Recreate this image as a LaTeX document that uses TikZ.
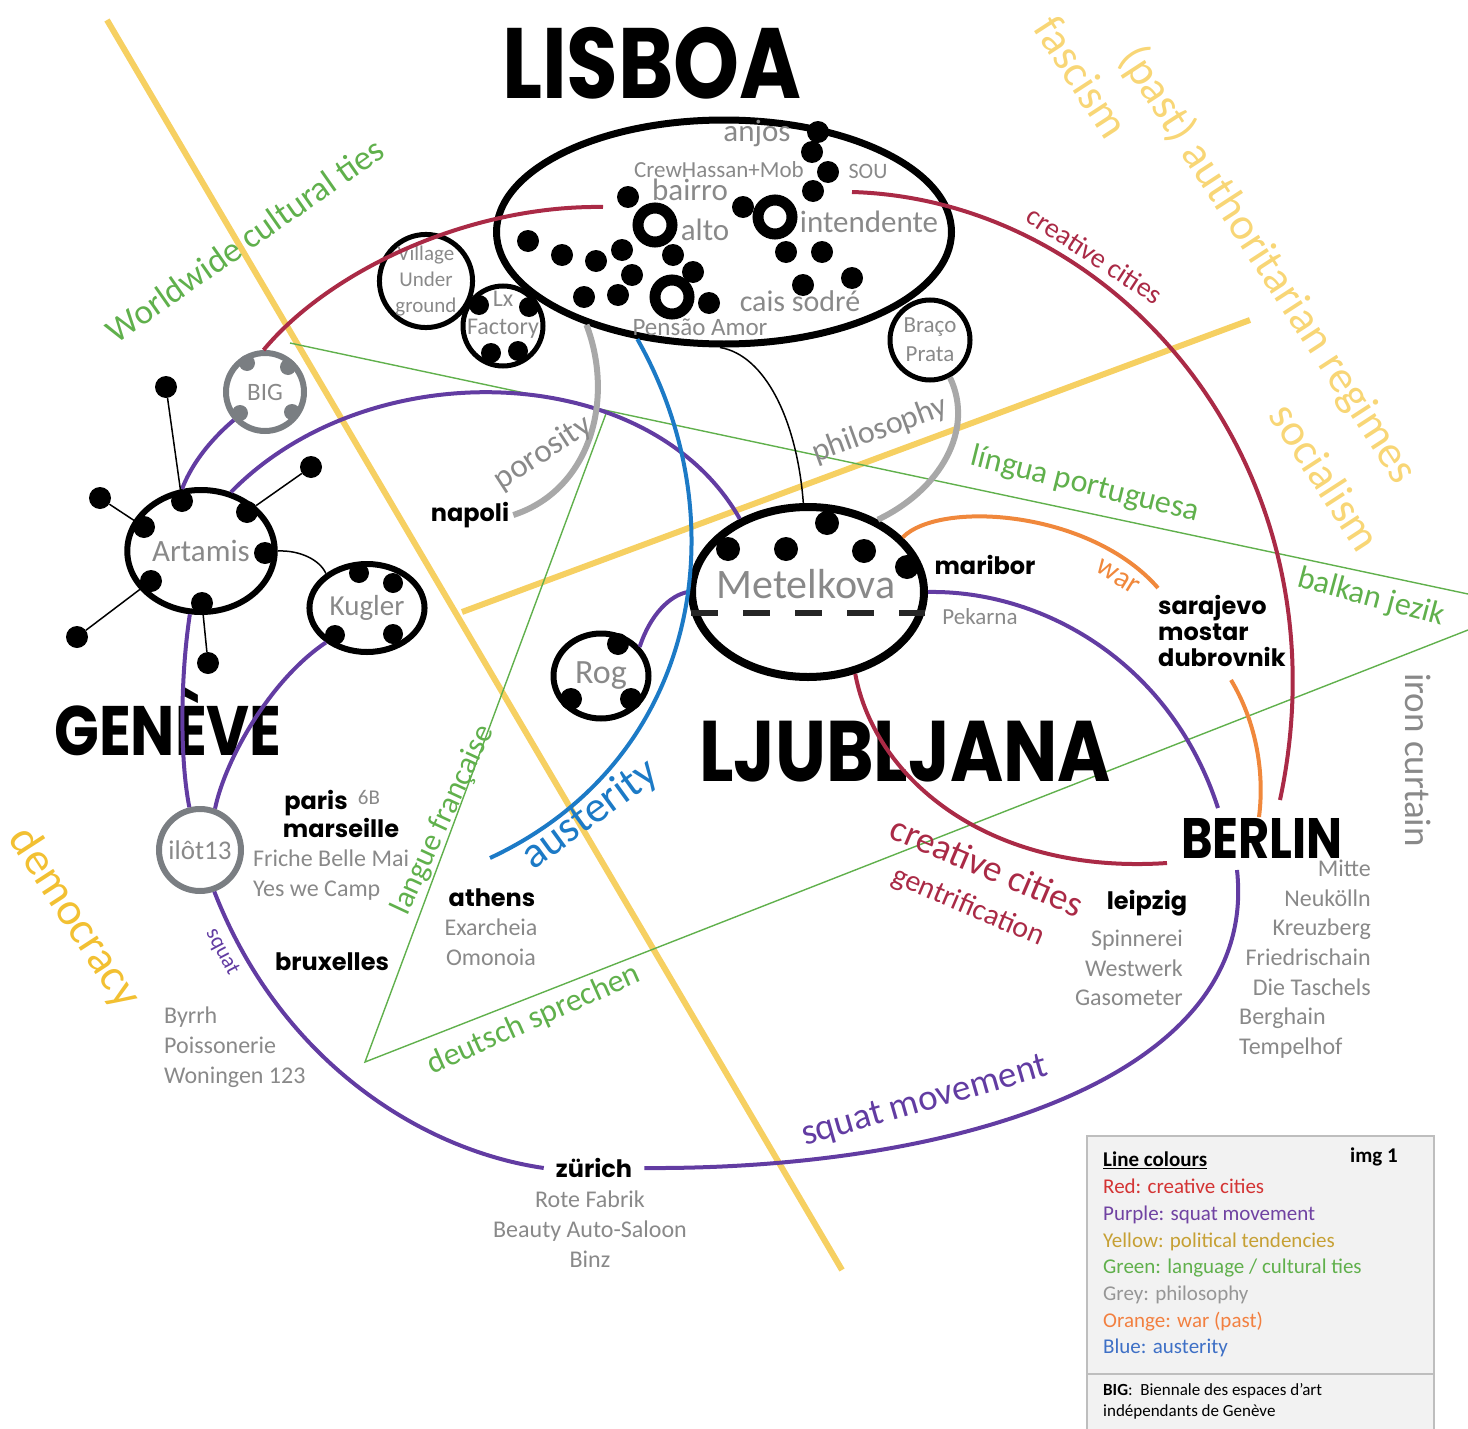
\documentclass[tikz,border=0pt]{standalone}
\usepackage{fontspec}
\setmainfont{Carlito}
\newfontfamily\brushfont{Poppins}
\usetikzlibrary{shapes.geometric,positioning}

\definecolor{ccred}{RGB}{170,42,70}
\definecolor{sqpurple}{RGB}{98,60,162}
\definecolor{polyellow}{RGB}{246,208,98}
\definecolor{paleyellow}{RGB}{248,214,118}
\definecolor{demyellow}{RGB}{242,192,50}
\definecolor{langgreen}{RGB}{96,176,76}
\definecolor{philgrey}{RGB}{168,168,168}
\definecolor{textgrey}{RGB}{137,137,137}
\definecolor{bigrey}{RGB}{122,126,130}
\definecolor{warorange}{RGB}{240,136,60}
\definecolor{ausblue}{RGB}{28,122,198}
\definecolor{legred}{RGB}{212,52,52}
\definecolor{legpurple}{RGB}{112,66,162}
\definecolor{legyellow}{RGB}{198,160,52}
\definecolor{leggrey}{RGB}{150,150,150}
\definecolor{legorange}{RGB}{242,128,64}
\definecolor{legblue}{RGB}{62,112,198}
\definecolor{legfill}{RGB}{242,242,242}
\definecolor{legframe}{RGB}{190,190,190}

\begin{document}
\begin{tikzpicture}[
    x=1pt, y=-1pt,
    cityname/.style={font=\brushfont\bfseries\fontsize{#1}{#1}\selectfont, xscale=0.84, inner sep=0pt},
    town/.style={font=\brushfont\bfseries\fontsize{24}{26}\selectfont, inner sep=4pt, align=left},
    lbl/.style={font=\fontsize{#1}{#1}\selectfont, inner sep=0pt},
    site/.style={text=textgrey, font=\fontsize{24}{29.6}\selectfont, inner sep=0pt},
    spot/.style={circle, fill=black, inner sep=0pt, minimum size=#1},
    spot/.default=22pt,
    hollow/.style={circle, draw, line width=11pt, inner sep=0pt, minimum size=34pt},
    club/.style={circle, draw, line width=5pt, inner sep=0pt, text=textgrey, align=center},
    cc/.style={draw=ccred, line width=4pt},
    sq/.style={draw=sqpurple, line width=4pt},
    pol/.style={draw=polyellow, line width=6pt},
    lang/.style={draw=langgreen, line width=1.4pt},
    phil/.style={draw=philgrey, line width=6pt},
    fight/.style={draw=warorange, line width=4pt},
    aus/.style={draw=ausblue, line width=4pt},
    tie/.style={draw=black, line width=1.5pt}
]
\useasboundingbox (0,0) rectangle (1468,1429);

% political tendencies and language ties
\coordinate (yA) at (107,20);
\coordinate (yB) at (842,1270);
\coordinate (yC) at (462,612);
\coordinate (yD) at (1250,320);
\coordinate (gA) at (290,343);
\coordinate (gB) at (1468,594);
\coordinate (gC) at (365,1062);
\coordinate (gD) at (607,411);
\coordinate (gE) at (1468,630);
\draw[pol] (yA) -- (yB);
\draw[pol] (yC) -- (yD);
\draw[lang] (gA) -- (gB);
\draw[lang] (gD) -- (gC) -- (gE);

% Lisboa
\node[draw, ellipse, line width=7pt, minimum width=455pt, minimum height=224pt] (lisboa) at (724,232) {};
\node[cityname=100] (lisboaname) at (652,63) {LISBOA};
\node[lbl=31, text=textgrey] (anjos) at (757,133) {anjos};
\node[lbl=23, text=textgrey, anchor=west] (crew) at (634,170) {CrewHassan+Mob};
\node[lbl=22, text=textgrey] (sou) at (868,171) {SOU};
\node[lbl=31, text=textgrey] (bairro) at (690,190) {bairro};
\node[lbl=31, text=textgrey] (alto) at (705,230) {alto};
\node[lbl=31, text=textgrey] (intendente) at (869,222) {intendente};
\node[lbl=30, text=textgrey] (caissodre) at (800,301) {cais sodré};
\node[lbl=25, text=textgrey] (pensao) at (700,327) {Pensão Amor};
\node[club, minimum size=90pt, font=\fontsize{21}{26}\selectfont] (village) at (426,281) {Village\\Under\\ground};
\node[club, minimum size=80pt] (lxfactory) at (503,326) {};
\node[text=textgrey, align=center, inner sep=0pt, font=\fontsize{24}{28}\selectfont] (lxname) at (503,315) {Lx\\Factory};
\node[club, minimum size=80pt, font=\fontsize{23}{29}\selectfont] (braco) at (930,340) {Braço\\Prata};

% Genève
\node[circle, draw=bigrey, line width=6pt, minimum size=78pt, inner sep=0pt, text=textgrey, font=\fontsize{25}{25}\selectfont] (bigc) at (265,392) {BIG};
\node[draw, ellipse, line width=6pt, minimum width=138pt, minimum height=122pt, text=textgrey, font=\fontsize{31}{31}\selectfont] (artamis) at (201,551) {Artamis};
\node[draw, ellipse, line width=6pt, minimum width=100pt, minimum height=88pt, text=textgrey, font=\fontsize{29}{29}\selectfont] (kugler) at (367,608) {Kugler};
\node[circle, draw=bigrey, line width=6pt, minimum size=82pt, inner sep=0pt, text=textgrey, font=\fontsize{27}{27}\selectfont] (ilot) at (200,850) {ilôt13};
\node[cityname=70] (geneve) at (168,722) {GENÈVE};

% Ljubljana
\node[draw, ellipse, line width=8pt, minimum width=232pt, minimum height=170pt] (metelkova) at (808,592) {};
\node[lbl=42, text=textgrey] (metelkovaname) at (806,584) {Metelkova};
\node[draw, ellipse, line width=6pt, minimum width=95pt, minimum height=85pt, text=textgrey, font=\fontsize{34}{34}\selectfont] (rog) at (601,676) {Rog};
\node[cityname=86] (ljubljana) at (905,752) {LJUBLJANA};
\draw[line width=6pt, draw=black!85, dash pattern=on 27pt off 25pt] (metelkova.190) -- (metelkova.350);

% Berlin
\node[cityname=57] (berlin) at (1262,838) {BERLIN};

% towns
\node[town] (napoli) at (470,515) {napoli};
\node[town] (maribor) at (985,565) {maribor};
\node[town, anchor=north west, inner sep=0pt] (balkan) at (1158,595) {sarajevo\\mostar\\dubrovnik};
\node[town] (paris) at (316,803) {paris};
\node[town] (marseille) at (341,828) {marseille};
\node[town] (athens) at (492,898) {athens};
\node[town] (bruxelles) at (332,962) {bruxelles};
\node[town] (leipzig) at (1147,903) {leipzig};
\node[town, inner xsep=12pt] (zurich) at (594,1168) {zürich};

% sites
\node[lbl=21, text=textgrey] (sixb) at (369,797) {6B};
\node[lbl=23, text=textgrey] (pekarna) at (980,617) {Pekarna};
\node[site, anchor=north west, align=left] (marseillesites) at (253,850) {Friche Belle Mai\\Yes we Camp};
\node[site, anchor=north west, align=left] (bruxellessites) at (164,1007) {Byrrh\\Poissonerie\\Woningen 123};
\node[site, anchor=north, align=center] (athenssites) at (491,919) {Exarcheia\\Omonoia};
\node[site, anchor=north, align=center] (zurichsites) at (590,1191) {Rote Fabrik\\Beauty Auto-Saloon\\Binz};
\node[site, anchor=north east, align=right] (leipzigsites) at (1183,930) {Spinnerei\\Westwerk\\Gasometer};
\node[site, anchor=north east, align=right] (berlinsites) at (1371,860) {Mitte\\Neukölln\\Kreuzberg\\Friedrischain\\Die Taschels};
\node[site, anchor=north west, align=left] (berlinsites2) at (1239,1008) {Berghain\\Tempelhof};

% free ends
\coordinate (lisW) at (603,207);
\coordinate (lisE) at (852,192);
\coordinate (berlinred) at (1280,800);
\coordinate (leipzigred) at (1167,863);
\coordinate (berlinsqS) at (1237,870);
\coordinate (berlinsqN) at (1218,808);
\coordinate (warend) at (1158,588);
\coordinate (balkanwar) at (1231,680);
\coordinate (berlinwar) at (1259,817);
\coordinate (ausend) at (490,858);

% creative cities
\draw[cc] (bigc.92) .. controls (330,270) and (470,205) .. (lisW);
\draw[cc] (lisE) .. controls (1120,200) and (1350,470) .. (berlinred);
\draw[cc] (metelkova.300) .. controls (875,780) and (990,875) .. (leipzigred);

% squat movement
\draw[sq] (artamis.107) .. controls (195,455) and (222,430) .. (bigc.222);
\draw[sq] (artamis.63) .. controls (370,350) and (650,360) .. (metelkova.133);
\draw[sq] (kugler.220) .. controls (270,680) and (225,760) .. (ilot.70);
\draw[sq] (artamis.260) .. controls (180,680) and (180,760) .. (ilot.104);
\draw[sq] (ilot.289) .. controls (280,1060) and (420,1150) .. (zurich.west);
\draw[sq] (zurich.east) .. controls (950,1170) and (1260,1080) .. (berlinsqS);
\draw[sq] (berlinsqN) .. controls (1170,660) and (1040,590) .. (metelkova.east);
\draw[sq] (rog.37) .. controls (650,615) and (670,595) .. (metelkova.west);

% war
\draw[fight] (metelkova.30) .. controls (940,500) and (1090,510) .. (warend);
\draw[fight] (balkanwar) .. controls (1255,720) and (1265,770) .. (berlinwar);

% philosophy
\draw[phil] (lisboa.214) .. controls (615,400) and (590,490) .. (napoli.east);
\draw[phil] (braco.298) .. controls (975,430) and (940,490) .. (metelkova.46);

% austerity and other ties
\draw[aus] (lisboa.231) .. controls (740,520) and (700,760) .. (ausend);
\draw[tie] (lisboa.268) .. controls (765,355) and (797,420) .. (metelkova.93);
\draw[tie] (artamis.east) .. controls (300,550) and (320,560) .. (kugler.140);

% spaces
\foreach \px/\py [count=\k] in {818/132, 812/152, 828/172, 813/191, 628/197, 743/207, 528/241, 562/255, 596/261, 622/250, 673/255, 693/272, 632/275, 584/297, 618/295, 709/303, 786/252, 822/252, 803/285, 852/278}
  \node[spot] (ldot\k) at (\px,\py) {};
\foreach \px/\py [count=\k] in {655/225, 775/217, 672/297}
  \node[hollow] (lring\k) at (\px,\py) {};
\foreach \px/\py [count=\k] in {479/305, 529/307, 491/353, 518/351}
  \node[spot=20pt] (lxdot\k) at (\px,\py) {};
\foreach \px/\py [count=\k] in {247/363, 288/367, 240/413, 292/412}
  \node[spot=16pt, fill=bigrey] (bigdot\k) at (\px,\py) {};
\foreach \ax/\ay/\sx/\sy [count=\k] in {182/501/166/387, 144/527/100/498, 247/512/311/467, 151/581/77/637, 202/603/208/663} {
  \node[spot] (adot\k) at (\ax,\ay) {};
  \node[spot] (asat\k) at (\sx,\sy) {};
  \draw[tie] (adot\k) -- (asat\k);
}
\node[spot] (adot6) at (265,553) {};
\foreach \px/\py [count=\k] in {359/573, 393/583, 335/635, 393/634}
  \node[spot=20pt] (kdot\k) at (\px,\py) {};
\foreach \px/\py [count=\k] in {728/549, 786/549, 827/523, 864/551, 907/567}
  \node[spot=24pt] (mdot\k) at (\px,\py) {};
\foreach \px/\py [count=\k] in {618/644, 571/699, 631/699}
  \node[spot] (rdot\k) at (\px,\py) {};

% line labels
\node[lbl=28, text=ccred, rotate=-33] (cclabel1) at (1095,255) {creative cities};
\node[lbl=37, text=ccred, rotate=-23] (cclabel2) at (987,866) {creative cities};
\node[lbl=30, text=ccred, rotate=-23] (gentrification) at (968,907) {gentrification};
\node[lbl=37, text=sqpurple, rotate=16] (sqlabel) at (925,1102) {squat movement};
\node[lbl=22, text=sqpurple, rotate=-62] (sqsmall) at (222,952) {squat};
\node[lbl=30, text=warorange, rotate=-32] (warlabel) at (1118,577) {war};
\node[lbl=33, text=textgrey, rotate=33] (porosity) at (543,453) {porosity};
\node[lbl=32, text=textgrey, rotate=20] (philosophy) at (880,430) {philosophy};
\node[lbl=44, text=ausblue, rotate=36] (austerity) at (590,815) {austerity};
\node[lbl=35, text=langgreen, rotate=35] (worldwide) at (245,240) {Worldwide cultural ties};
\node[lbl=32, text=langgreen, rotate=-14] (lingua) at (1085,485) {língua portuguesa};
\node[lbl=32, text=langgreen, rotate=-15] (balkanlang) at (1371,598) {balkan jezik};
\node[lbl=31, text=langgreen, rotate=65] (langue) at (443,820) {langue française};
\node[lbl=32, text=langgreen, rotate=24] (deutsch) at (534,1020) {deutsch sprechen};
\node[lbl=45, text=paleyellow, rotate=-57] (fascism) at (1082,77) {fascism};
\node[lbl=45, text=paleyellow, rotate=-57] (authoritarian) at (1268,265) {(past) authoritarian regimes};
\node[lbl=45, text=paleyellow, rotate=-57] (socialism) at (1326,477) {socialism};
\node[lbl=46, text=demyellow, rotate=-57] (democracy) at (74,918) {democracy};
\node[lbl=37, text=textgrey, rotate=-90] (ironcurtain) at (1418,760) {iron curtain};

% legend
\node[draw=legframe, fill=legfill, line width=2pt, anchor=north west, minimum width=347pt, minimum height=310pt, inner sep=0pt] (legendbox) at (1086,1135) {};
\coordinate (divL) at (1086,1374);
\coordinate (divR) at (1433,1374);
\draw[draw=legframe, line width=2pt] (divL) -- (divR);
\node[anchor=north west, align=left, inner sep=0pt, font=\fontsize{21}{26.7}\selectfont] (legend) at (1103,1152) {\underline{\textbf{Line colours}}\\
  \textcolor{legred}{Red: creative cities}\\
  \textcolor{legpurple}{Purple: squat movement}\\
  \textcolor{legyellow}{Yellow: political tendencies}\\
  \textcolor{langgreen}{Green: language / cultural ties}\\
  \textcolor{leggrey}{Grey: philosophy}\\
  \textcolor{legorange}{Orange: war (past)}\\
  \textcolor{legblue}{Blue: austerity}};
\node[anchor=east, inner sep=0pt, font=\bfseries\fontsize{21}{21}\selectfont] (imgtag) at (1398,1157) {img 1};
\node[anchor=north west, align=left, inner sep=0pt, font=\fontsize{17}{21}\selectfont] (bignote) at (1103,1383) {\textbf{BIG}:\ \ Biennale des espaces d’art\\indépendants de Genève};
\end{tikzpicture}
\end{document}
